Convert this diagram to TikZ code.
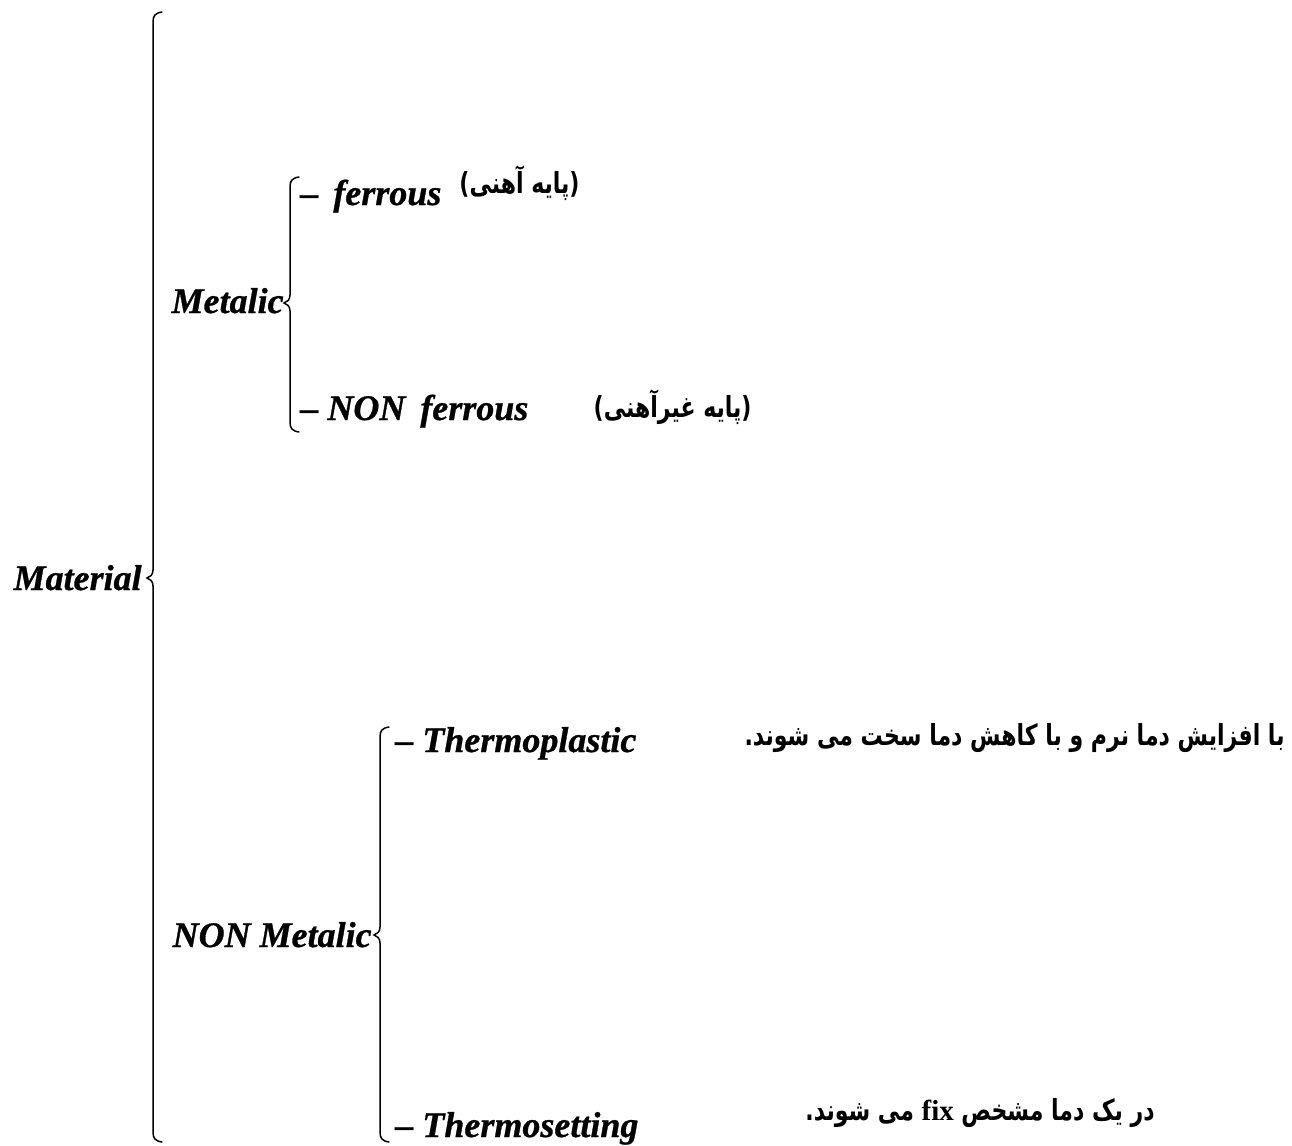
\documentclass[tikz,border=0pt]{standalone}
\usepackage{fontspec}
\setmainfont{Liberation Serif}[BoldItalicFeatures={FakeBold=0.8}]
\newfontfamily\fa[Script=Arabic, FakeStretch=0.76]{DejaVu Sans}
\TeXXeTstate=1
\usetikzlibrary{positioning}

\tikzset{
  lab/.style={inner sep=0pt, font=\fontsize{18}{20}\selectfont\bfseries\itshape},
  note/.style={inner sep=0pt, font=\fontsize{14.5}{16}\selectfont\fa\bfseries},
  brk/.style={line width=0.75pt, line cap=round}
}

\begin{document}
\begin{tikzpicture}[x=0.5pt, y=-0.5pt]
  \useasboundingbox (0,0) rectangle (1292,1146);
  % braces: x / top / cusp / bottom
  \foreach \bx/\bt/\bm/\bb in {153/12/578/1142, 290/177/303/432, 380/727/935/1142}{
    \draw[brk] (\bx+9,\bt) .. controls (\bx+2,\bt+1) and (\bx,\bt+4) .. (\bx,\bt+10)
      -- (\bx,\bm-8) .. controls (\bx,\bm-3) and (\bx-3,\bm-1) .. (\bx-6,\bm)
      .. controls (\bx-3,\bm+1) and (\bx,\bm+3) .. (\bx,\bm+8)
      -- (\bx,\bb-10) .. controls (\bx,\bb-4) and (\bx+2,\bb-1) .. (\bx+9,\bb);
  }
  % main labels
  \node[lab, anchor=base east] (material) at (142,590) {Material};
  \node[lab, anchor=base east] (metalic) at (284,313) {Metalic};
  \node[lab, anchor=base east] (nonmetalic) at (372,947) {NON Metalic};
  % branches
  \node[lab, anchor=base west] (ferrous) at (300,205) {– \,ferrous};
  \node[lab, anchor=base west] (nonferrous) at (300,420) {– NON\, ferrous};
  \node[lab, anchor=base west] (plastic) at (395,752) {– Thermoplastic};
  \node[lab, anchor=base west] (setting) at (395,1137) {– Thermosetting};
  % notes
  \node[note, anchor=base east] (ferrousfa) at (580,193) {\beginR(پایه آهنی)\endR};
  \node[note, anchor=base east] (nonferrousfa) at (752,417) {\beginR(پایه غیرآهنی)\endR};
  \node[note, anchor=base east] (plasticfa) at (1285,745) {\beginR با افزایش دما نرم و با کاهش دما سخت می شوند.\endR};
  \node[note, anchor=base east] (settingfa) at (1155,1120) {\beginR در یک دما مشخص {\rmfamily\bfseries\beginL fix\endL} می شوند.\endR};
\end{tikzpicture}
\end{document}
